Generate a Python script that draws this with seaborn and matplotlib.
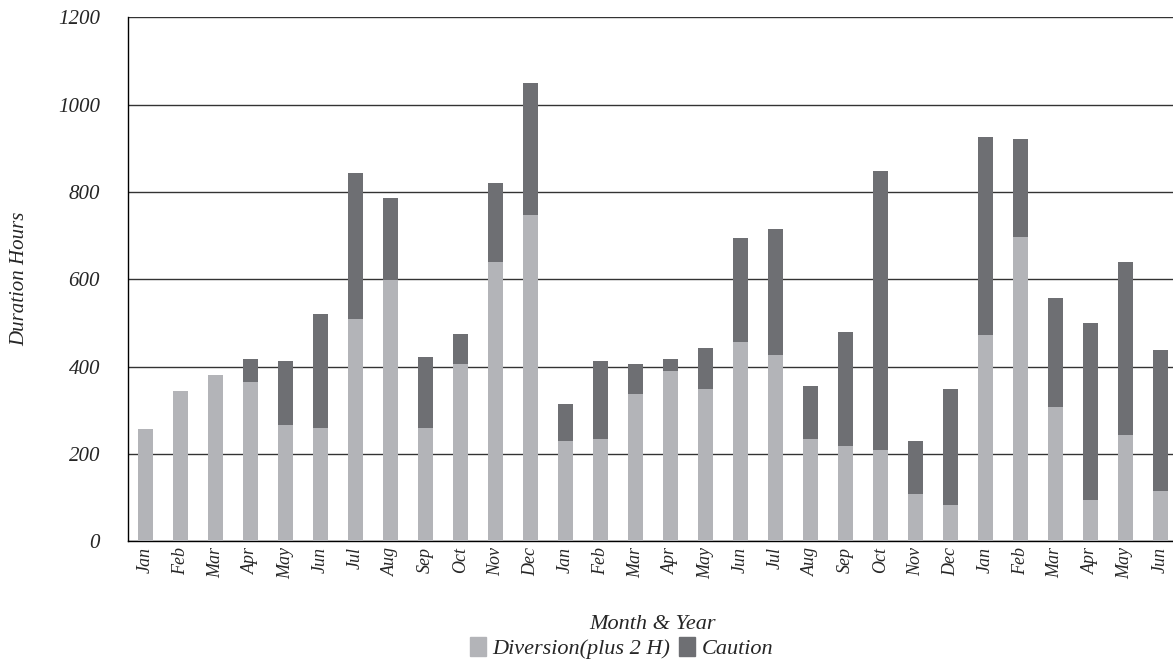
import numpy as np
import pandas as pd
import matplotlib
matplotlib.use("Agg")
import matplotlib.pyplot as plt
from matplotlib.patches import Patch
import seaborn as sns

months = ["Jan", "Feb", "Mar", "Apr", "May", "Jun", "Jul", "Aug", "Sep", "Oct", "Nov", "Dec",
          "Jan", "Feb", "Mar", "Apr", "May", "Jun", "Jul", "Aug", "Sep", "Oct", "Nov", "Dec",
          "Jan", "Feb", "Mar", "Apr", "May", "Jun"]
diversion = [256, 343, 380, 364, 266, 259, 508, 598, 259, 405, 639, 748,
             229, 234, 337, 389, 348, 456, 426, 234, 218, 209, 108, 82,
             472, 696, 307, 94, 243, 114]
caution = [0, 0, 0, 53, 146, 261, 335, 187, 162, 69, 181, 302,
           85, 178, 68, 28, 94, 239, 290, 121, 261, 638, 121, 266,
           453, 225, 249, 405, 396, 323]

LIGHT = "#b3b4b8"
DARK = "#6e6f73"

sns.set_style("white")
plt.rcParams["font.family"] = ["Liberation Serif", "DejaVu Serif"]
plt.rcParams["font.style"] = "italic"

df = pd.DataFrame({
    "pos": np.arange(len(months)),
    "month": months,
    "diversion": diversion,
    "caution": caution,
})
df["total"] = df["diversion"] + df["caution"]

fig = plt.figure(figsize=(11.73, 6.64), dpi=100)
ax = fig.add_axes([0.109, 0.185, 0.895, 0.789])

# stacked: total in dark, diversion drawn over it in light
sns.barplot(data=df, x="pos", y="total", color=DARK, width=0.43,
            saturation=1, linewidth=0, ax=ax, zorder=3)
sns.barplot(data=df, x="pos", y="diversion", color=LIGHT, width=0.43,
            saturation=1, linewidth=0, ax=ax, zorder=4)

ax.set_ylim(0, 1200)
ax.set_xlim(-0.5, 29.4)
ax.set_yticks(np.arange(0, 1201, 200))
ax.set_yticklabels([str(v) for v in range(0, 1201, 200)], fontsize=15)
ax.yaxis.grid(True, color="#333333", linewidth=1.0, zorder=0)
ax.set_axisbelow(True)

ax.set_xticks(df["pos"])
ax.set_xticklabels(df["month"], rotation=90, fontsize=13)
ax.set_xticks(np.arange(-0.5, 30, 1), minor=True)
ax.tick_params(axis="x", which="major", length=0, pad=4)
ax.tick_params(axis="x", which="minor", length=6, color="black", width=1, direction="out")
ax.tick_params(axis="y", length=6, color="black", width=1, direction="out", pad=14)

for s in ["top", "right"]:
    ax.spines[s].set_visible(False)
for s in ["left", "bottom"]:
    ax.spines[s].set_color("black")
    ax.spines[s].set_linewidth(1.0)

ax.set_xlabel("Month & Year", fontsize=16, labelpad=26)
ax.set_ylabel("Duration Hours", fontsize=15)
ax.yaxis.set_label_coords(-0.094, 0.5)

handles = [Patch(color=LIGHT, label="Diversion(plus 2 H)"),
           Patch(color=DARK, label="Caution")]
fig.legend(handles=handles, loc="center", bbox_to_anchor=(0.53, 0.024), ncol=2,
           frameon=False, fontsize=16, handlelength=0.7, handleheight=0.9,
           handletextpad=0.3, columnspacing=0.4)

fig.savefig("out.png", dpi=100)
